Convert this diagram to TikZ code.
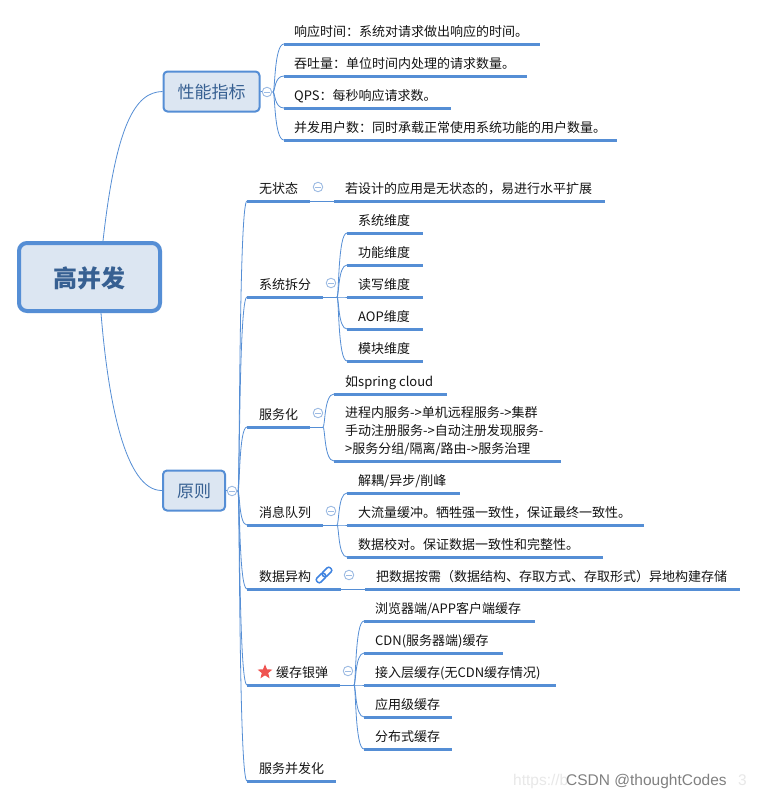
\documentclass[tikz,border=0pt]{standalone}
\usepackage{fontspec}
\setmainfont{Noto Sans CJK SC}
\newfontfamily\wmfont{Liberation Sans}
\usetikzlibrary{calc,shapes.geometric}
\definecolor{mapblue}{HTML}{558ED5}
\definecolor{mapfill}{HTML}{DCE6F2}
\definecolor{maptext}{HTML}{376092}
\definecolor{foldblue}{HTML}{9DBBE3}
\definecolor{linkblue}{HTML}{3F83E0}
\definecolor{starred}{HTML}{EF5350}
\tikzset{
  conn/.style={draw=mapblue,line width=0.8pt},
  barnode/.style={fill=mapblue,inner sep=0pt,minimum height=3pt,anchor=west,rectangle},
  labelnode/.style={inner sep=0pt,anchor=base west,font=\fontsize{13}{18}\selectfont,text=black!92},
  topic/.style={draw=mapblue,fill=mapfill,line width=2pt,rounded corners=4pt,inner sep=0pt,
    font=\fontsize{17}{20}\selectfont,text=maptext},
  foldnode/.style={circle,draw=foldblue,fill=white,line width=0.9pt,minimum size=9.5pt,inner sep=0pt,
    path picture={\draw[foldblue,line width=0.9pt] ([xshift=-2.8pt]path picture bounding box.center) -- ([xshift=2.8pt]path picture bounding box.center);}},
}
% #1 name, #2 bar start, #3 bar end, #4 bar y, #5 text x, #6 text
\newcommand\leafnode[6]{%
  \path let \n1={#3-#2} in node[barnode,minimum width=\n1 pt] (#1) at (#2,#4) {};
  \node[labelnode] (#1t) at (#5,#4-8) {#6};
}
\newcommand\bcurve[2]{%
  \draw[conn] let \p1=(#1),\p2=(#2.west) in (\p1) .. controls ({\x1+0.2*(\x2-\x1)},\y1) and ({\x1+0.1*(\x2-\x1)},\y2) .. (\p2);
}
\begin{document}
\begin{tikzpicture}[x=1pt,y=-1pt]
\useasboundingbox (0,0) rectangle (757,798);
\fill[white] (0,0) rectangle (757,798);

% watermark
\node[inner sep=0pt,anchor=base west,font=\wmfont\fontsize{15.5}{18}\selectfont,text=black!9] (wma) at (513,785) {https://b};
\node[inner sep=0pt,anchor=base west,font=\wmfont\fontsize{15.5}{18}\selectfont,text=black!9] (wmb) at (738,785) {3};

% main topics
\node[draw=mapblue,fill=mapfill,line width=4pt,rounded corners=8pt,minimum width=141pt,minimum height=68pt,inner sep=0pt,
  font=\fontsize{24}{28}\bfseries\selectfont,text=maptext] (root) at (89.5,277) {\raisebox{-10.5pt}[0pt][0pt]{高并发}};
\node[topic,minimum width=96pt,minimum height=40pt] (perf) at (211.5,91.5) {\raisebox{-7pt}[0pt][0pt]{性能指标}};
\node[topic,minimum width=62pt,minimum height=40pt] (rule) at (194,490.5) {\raisebox{-6.5pt}[0pt][0pt]{原则}};

\draw[conn] ([xshift=13.5pt]root.north) .. controls (116,125) and (135,92) .. (perf.west);
\draw[conn] ([xshift=11.5pt]root.south) .. controls (108,400) and (125,491) .. (rule.west);

% performance branch
\coordinate (po) at (273,92);
\leafnode{pa}{284}{540}{44}{294}{响应时间：系统对请求做出响应的时间。}
\leafnode{pb}{284}{527}{76}{294}{吞吐量：单位时间内处理的请求数量。}
\leafnode{pc}{284}{451}{108}{294}{QPS：每秒响应请求数。}
\leafnode{pd}{284}{617}{140}{294}{并发用户数：同时承载正常使用系统功能的用户数量。}
\draw[conn] (perf.east) -- (po);
\foreach \t in {pa,pb,pc,pd}{\bcurve{po}{\t}}
\node[foldnode] (pf) at (267,92) {};

% principle trunk
\coordinate (ro) at (238,491);
\leafnode{a}{247}{310}{201}{259}{无状态}
\leafnode{b}{247}{323}{297}{259}{系统拆分}
\leafnode{c}{247}{310}{427}{259}{服务化}
\leafnode{d}{247}{323}{525}{259}{消息队列}
\leafnode{e}{247}{341}{589}{259}{数据异构}
\leafnode{f}{247}{340}{685}{276}{缓存银弹}
\leafnode{g}{247}{336}{781}{259}{服务并发化}
\draw[conn] (rule.east) -- (ro);
\foreach \t in {a,b,c,d,e,f,g}{\bcurve{ro}{\t}}
\node[foldnode] (rf) at (232,491) {};

% stateless
\leafnode{a1}{334}{605}{201}{345}{若设计的应用是无状态的，易进行水平扩展}
\draw[conn] (a.east) -- (a1.west);
\node[foldnode] (af) at (318,187) {};

% split
\coordinate (bo) at (337,297);
\leafnode{b1}{347}{423}{233}{358}{系统维度}
\leafnode{b2}{347}{423}{265}{358}{功能维度}
\leafnode{b3}{347}{423}{297}{358}{读写维度}
\leafnode{b4}{347}{423}{329}{358}{AOP维度}
\leafnode{b5}{347}{423}{361}{358}{模块维度}
\draw[conn] (b.east) -- (bo);
\foreach \t in {b1,b2,b3,b4,b5}{\bcurve{bo}{\t}}
\node[foldnode] (bf) at (331,283) {};

% services
\coordinate (co) at (323,427);
\leafnode{c1}{334}{447}{394}{345}{如spring cloud}
\path node[barnode,minimum width=227pt] (c2) at (334,461) {};
\node[labelnode,anchor=north west,align=left] (c2t) at (345,406) {进程内服务->单机远程服务->集群\\手动注册服务->自动注册发现服务-\\>服务分组/隔离/路由->服务治理};
\draw[conn] (c.east) -- (co);
\foreach \t in {c1,c2}{\bcurve{co}{\t}}
\node[foldnode] (cf) at (318,413) {};

% queue
\coordinate (do) at (337,525);
\leafnode{d1}{347}{460}{493}{358}{解耦/异步/削峰}
\leafnode{d2}{347}{644}{525}{358}{大流量缓冲。牺牲强一致性，保证最终一致性。}
\leafnode{d3}{347}{603}{557}{358}{数据校对。保证数据一致性和完整性。}
\draw[conn] (d.east) -- (do);
\foreach \t in {d1,d2,d3}{\bcurve{do}{\t}}
\node[foldnode] (df) at (331,511) {};

% heterogeneous data
\leafnode{e1}{365}{740}{589}{376}{把数据按需（数据结构、存取方式、存取形式）异地构建存储}
\draw[conn] (e.east) -- (e1.west);
\node[foldnode] (ef) at (349,575) {};
\begin{scope}[shift={(324,575)},rotate=45]
  \draw[linkblue,line width=1.5pt,rounded corners=2.2pt] (-9.5,-2.8) rectangle (1.2,2.8);
  \draw[linkblue,line width=1.5pt,rounded corners=2.2pt] (-1.2,-2.8) rectangle (9.5,2.8);
\end{scope}

% cache
\coordinate (fo) at (354,685);
\leafnode{f1}{364}{535}{621}{375}{浏览器端/APP客户端缓存}
\leafnode{f2}{364}{503}{653}{375}{CDN(服务器端)缓存}
\leafnode{f3}{364}{556}{685}{375}{接入层缓存(无CDN缓存情况)}
\leafnode{f4}{364}{452}{717}{375}{应用级缓存}
\leafnode{f5}{364}{452}{749}{375}{分布式缓存}
\draw[conn] (f.east) -- (fo);
\foreach \t in {f1,f2,f3,f4,f5}{\bcurve{fo}{\t}}
\node[foldnode] (ff) at (348,671) {};
\node[star,star points=5,star point ratio=2.3,fill=starred,inner sep=0pt,minimum size=15.5pt] (fs) at (265,672) {};

% watermark front
\node[inner sep=0pt,anchor=base west,font=\wmfont\fontsize{15.5}{18}\selectfont,text=black!50] (wmc) at (566,785) {CSDN @thoughtCodes};
\end{tikzpicture}
\end{document}
